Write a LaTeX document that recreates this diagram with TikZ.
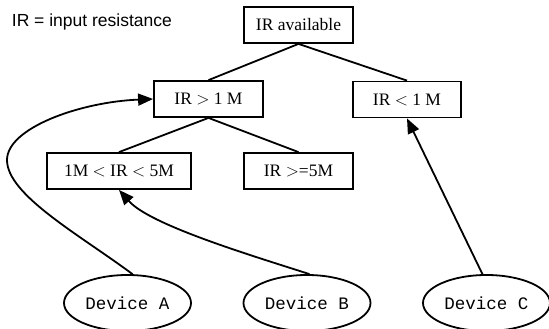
\documentclass[tikz,border=0pt]{standalone}
\usepackage{fontspec}
\setmainfont{Liberation Serif}
\newfontfamily\labelfont{Liberation Sans}
\newfontfamily\devfont{Liberation Mono}
\usetikzlibrary{arrows.meta,shapes.geometric}
\begin{document}
\begin{tikzpicture}[x=1pt,y=-1pt,line width=1.8pt,
  box/.style={draw,rectangle,inner sep=0pt,minimum height=36pt,font=\fontsize{17.5}{20}\selectfont},
  dev/.style={draw,ellipse,inner sep=0pt,minimum width=127pt,minimum height=56pt,font=\devfont\fontsize{17.5}{20}\selectfont},
  tree/.style={line width=1.8pt},
  link/.style={line width=1.8pt,-{Triangle[length=15pt,width=12pt]}}]
\useasboundingbox (0,0) rectangle (549,329);
\node[anchor=base west,inner sep=0pt,font=\labelfont\fontsize{17.5}{20}\selectfont] (lbl) at (11,27) {IR = input resistance};
\node[box,minimum width=109pt] (avail) at (298.5,25) {IR available};
\node[box,minimum width=109pt] (gt) at (208.5,99) {IR $>$ 1 M};
\node[box,minimum width=108pt] (lt) at (407,99.5) {IR $<$ 1 M};
\node[box,minimum width=144pt] (mid) at (119,171) {1M $<$ IR $<$ 5M};
\node[box,minimum width=109pt] (ge) at (298.5,171) {IR $>$=5M};
\node[dev] (A) at (127.5,303) {Device A};
\node[dev] (B) at (307,303) {Device B};
\node[dev] (C) at (486.5,303) {Device C};
\draw[tree] (avail.south) -- (gt.north);
\draw[tree] (avail.south) -- (lt.north);
\draw[tree] (gt.south) -- (mid.north);
\draw[tree] (gt.south) -- (ge.north);
\draw[link] (A.80) .. controls (80,235) and (7,195) .. (7,160) .. controls (7,128) and (80,102) .. (gt.west);
\draw[link] (B.85) .. controls (250,255) and (150,225) .. (mid.south);
\draw[link] (C.98) -- (lt.south);
\end{tikzpicture}
\end{document}
